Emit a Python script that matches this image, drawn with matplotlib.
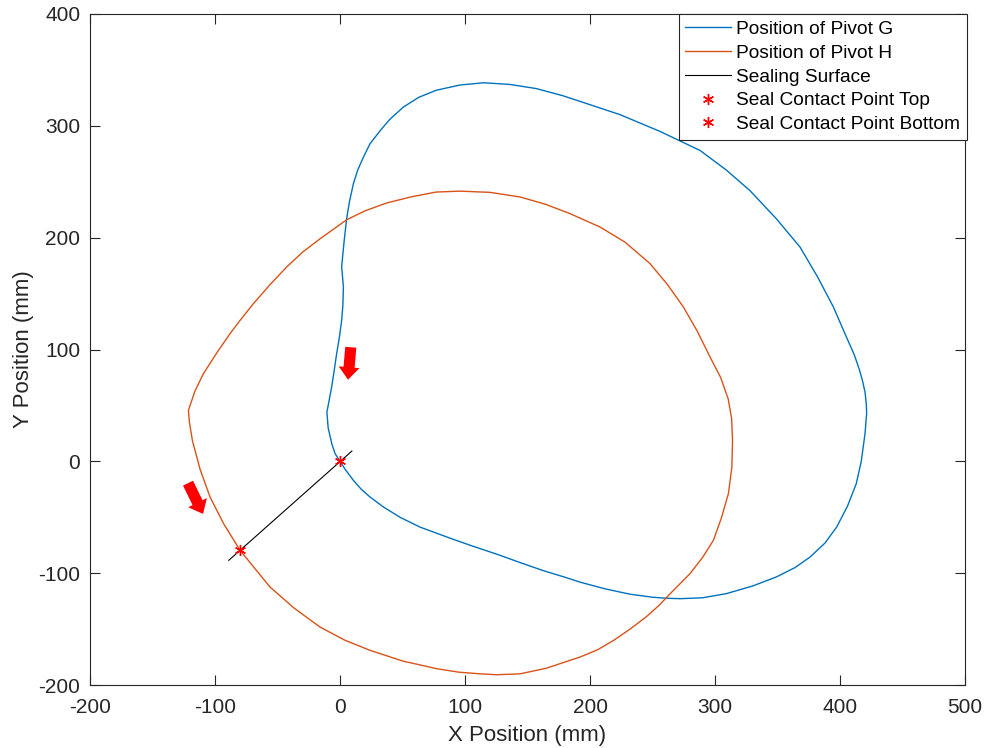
import matplotlib.pyplot as plt

plt.rcParams['font.family'] = ['Liberation Sans', 'DejaVu Sans']
plt.rcParams['axes.unicode_minus'] = False

# pivot G path (mm)
g_x = [0, 4, 10.7, 17, 24, 34.7, 48, 64, 74.7, 90, 104, 128, 144, 162, 181, 192,
       212, 232, 250, 261, 272, 290, 309, 330, 349, 364, 376, 388, 397.3, 406,
       413, 417, 420, 421.3, 421, 420, 418, 415.5, 411.5, 404, 394.7, 382, 368,
       349, 328, 309, 288, 256, 224, 197, 178, 157, 136, 115, 96, 77, 63, 50.7,
       40, 32, 24, 18.7, 14, 10.7, 7.5, 5.3, 3.2, 1.3, 2.7, 2.3, 1.3, -0.5,
       -2.7, -4.7, -6.7, -10.5, -9.5, -6.6, -4, 0]
g_y = [0, -7, -17, -25, -31.9, -40.8, -50, -58.8, -63.2, -69.5, -75, -84, -90.5,
       -97.5, -104, -108, -114, -118.8, -121.5, -122.4, -122.8, -122, -118.3,
       -111.5, -103.4, -95, -85.6, -73, -58.8, -40, -20, 0, 24.7, 42.6, 52, 62,
       72, 82, 95, 114, 138, 165, 191.6, 217, 242, 260.5, 278, 295, 310, 320,
       327, 333.3, 337, 338.5, 336.5, 331.8, 325.5, 316.8, 306, 295.5, 284, 272,
       260, 248.3, 232, 217, 196, 174, 156, 140, 126, 111, 96.3, 81, 66.4, 44,
       30, 15.8, 7, 0]

# pivot H path (mm)
h_x = [-80, -68, -56, -37, -16, 4, 24, 50, 77.3, 95, 112, 125.3, 144, 165, 192,
       206, 219, 232, 245, 255, 264, 280, 290, 298.7, 305, 310.7, 313.5, 314,
       313.3, 310.5, 304.5, 296, 286, 274.7, 262, 248, 228, 208, 184, 164, 144,
       120, 96, 77, 57, 37.3, 20, 5.3, -16, -30, -42.7, -56, -69.3, -80, -88,
       -98, -109.3, -116, -121.3, -120.5, -118, -112, -104, -93, -80]
h_y = [-79.5, -96, -112.4, -131, -148.2, -160, -169, -178.5, -185.4, -188.5,
       -190, -190.8, -190, -185, -175, -168.5, -160, -150, -139, -129, -118.5,
       -100.4, -86, -70.6, -51, -28.9, -5, 18.8, 38, 56, 75, 93.3, 116, 138,
       158, 176.8, 196, 209.5, 221.5, 230, 236.4, 240.5, 241.6, 240.8, 236.5,
       231, 224, 216, 199, 187, 173.8, 158, 141, 126, 114.2, 98, 78.4, 63, 45.6,
       35, 18, -7, -31.9, -56, -79.5]

seal_x = [-89, 9.5]
seal_y = [-88.5, 9.2]
top_pt = (0, 0)
bottom_pt = (-80, -79.5)

# direction arrows (tail, tip)
arrows = [((8.6, 102), (6.4, 73)), ((-121.6, -19.5), (-109.6, -47))]

fig = plt.figure(figsize=(9.84, 7.48), dpi=100)
ax = fig.add_axes([0.0915, 0.0842, 0.8892, 0.8971])

ast = (6, 2, 0)
ax.plot(g_x, g_y, color='#0072BD', lw=1.0, label='Position of Pivot G')
ax.plot(h_x, h_y, color='#D95319', lw=1.0, label='Position of Pivot H')
ax.plot(seal_x, seal_y, color='black', lw=0.8, label='Sealing Surface')
ax.plot(*top_pt, marker=ast, color='red', ms=8, mew=1.0, linestyle='none', label='Seal Contact Point Top')
ax.plot(*bottom_pt, marker=ast, color='red', ms=8, mew=1.0, linestyle='none', label='Seal Contact Point Bottom')

for tail, tip in arrows:
    ax.annotate('', xy=tip, xytext=tail,
                arrowprops=dict(arrowstyle='simple,head_width=1.5,head_length=0.9,tail_width=0.8',
                                color='red', lw=0, shrinkA=0, shrinkB=0))

ax.set_xlim(-200, 500)
ax.set_ylim(-200, 400)
ax.set_xticks(range(-200, 501, 100))
ax.set_yticks(range(-200, 401, 100))
ax.tick_params(direction='in', top=True, right=True, labelsize=15, colors='#262626',
               length=7, pad=7)
ax.tick_params(axis='x', pad=9)
for s in ax.spines.values():
    s.set_color('#262626')
ax.set_xlabel('X Position (mm)', fontsize=16, color='#262626', labelpad=6)
ax.set_ylabel('Y Position (mm)', fontsize=16, color='#262626', labelpad=3)

leg = ax.legend(loc='upper right', bbox_to_anchor=(1.002, 1.0), fontsize=13.8,
                fancybox=False, framealpha=1, edgecolor='#262626', borderaxespad=0,
                handlelength=2.4, handletextpad=0.25, labelspacing=0.33, borderpad=0.35)
leg.get_frame().set_linewidth(0.8)

fig.savefig('out.png', dpi=100)
